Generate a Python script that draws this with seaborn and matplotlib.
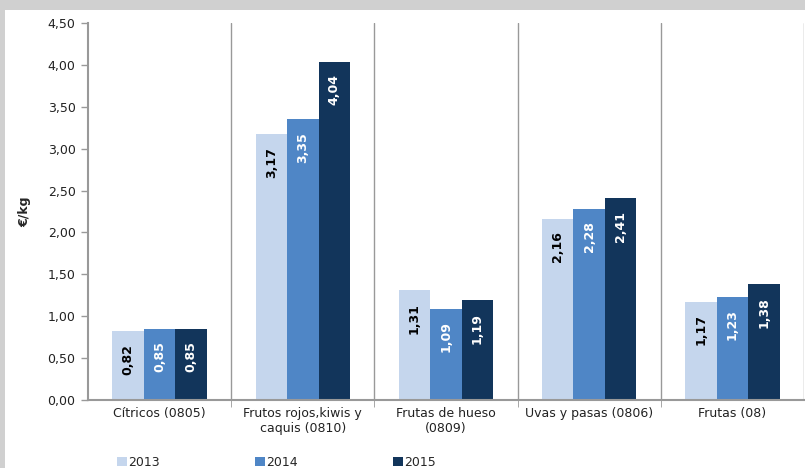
import matplotlib
matplotlib.use("Agg")
import matplotlib.pyplot as plt
import matplotlib.patches as mpatches
import numpy as np
import pandas as pd
import seaborn as sns

categories = ["Cítricos (0805)", "Frutos rojos,kiwis y\ncaquis (0810)",
              "Frutas de hueso\n(0809)", "Uvas y pasas (0806)", "Frutas (08)"]
years = ["2013", "2014", "2015"]
values_2013 = [0.82, 3.17, 1.31, 2.16, 1.17]
values_2014 = [0.85, 3.35, 1.09, 2.28, 1.23]
values_2015 = [0.85, 4.04, 1.19, 2.41, 1.38]
colors = ["#c5d6ed", "#4f86c6", "#12355b"]
label_colors = ["black", "white", "white"]

df = pd.DataFrame({
    "categoria": categories * 3,
    "anio": [y for y in years for _ in categories],
    "valor": values_2013 + values_2014 + values_2015,
})

sns.set_style("white")
plt.rcParams["font.family"] = ["DejaVu Sans"]

fig = plt.figure(figsize=(8.05, 4.68), dpi=100)
fig.patch.set_facecolor("#d0d0d0")
fig.add_artist(mpatches.Rectangle((5 / 805, 0), 1, (468 - 10) / 468,
                                  transform=fig.transFigure, facecolor="white",
                                  edgecolor="none", zorder=0))
ax = fig.add_axes([88 / 805, 68 / 468, 716 / 805, 377 / 468])
ax.set_facecolor("none")

sns.barplot(data=df, x="categoria", y="valor", hue="anio", hue_order=years,
            palette=colors, width=0.66, gap=0, saturation=1, ax=ax,
            edgecolor="none", linewidth=0, legend=True)

# etiquetas de valor dentro de la barra
for cont, lc in zip(ax.containers, label_colors):
    for bar in cont:
        h = bar.get_height()
        ax.annotate(f"{h:.2f}".replace(".", ","),
                    (bar.get_x() + bar.get_width() / 2, h),
                    xytext=(0, -9), textcoords="offset points",
                    ha="center", va="top", rotation=90,
                    fontsize=9, fontweight="bold", color=lc)

ax.set_ylim(0, 4.5)
ax.set_xlim(-0.5, 4.5)
yt = np.arange(0, 4.51, 0.5)
ax.set_yticks(yt)
ax.set_yticklabels([f"{v:.2f}".replace(".", ",") for v in yt], fontsize=9, color="#222222")
ax.set_xticks(range(len(categories)))
ax.set_xticklabels(categories, fontsize=9, color="#222222")
ax.tick_params(axis="x", length=0, pad=5)
ax.tick_params(axis="y", length=5, width=1, color="#999999", direction="out", left=True, pad=4)
ax.set_xticks([0.5, 1.5, 2.5, 3.5], minor=True)
ax.tick_params(axis="x", which="minor", length=5, color="#999999", bottom=True)

for xb in [0.5, 1.5, 2.5, 3.5, 4.5]:
    ax.axvline(xb, color="#999999", linewidth=1, zorder=0)

for side in ["top", "right"]:
    ax.spines[side].set_visible(False)
for side in ["left", "bottom"]:
    ax.spines[side].set_color("#999999")
    ax.spines[side].set_linewidth(1.5)

ax.set_xlabel("")
ax.set_ylabel("€/kg", fontsize=9, fontweight="bold", labelpad=12)

ax.legend(loc="lower left", bbox_to_anchor=(24 / 716, -74 / 377), ncol=3,
          frameon=False, fontsize=9, handlelength=0.8, handleheight=0.8,
          handletextpad=0.1, columnspacing=7.6, borderaxespad=0)

fig.savefig("out.png", dpi=100, facecolor=fig.get_facecolor())
